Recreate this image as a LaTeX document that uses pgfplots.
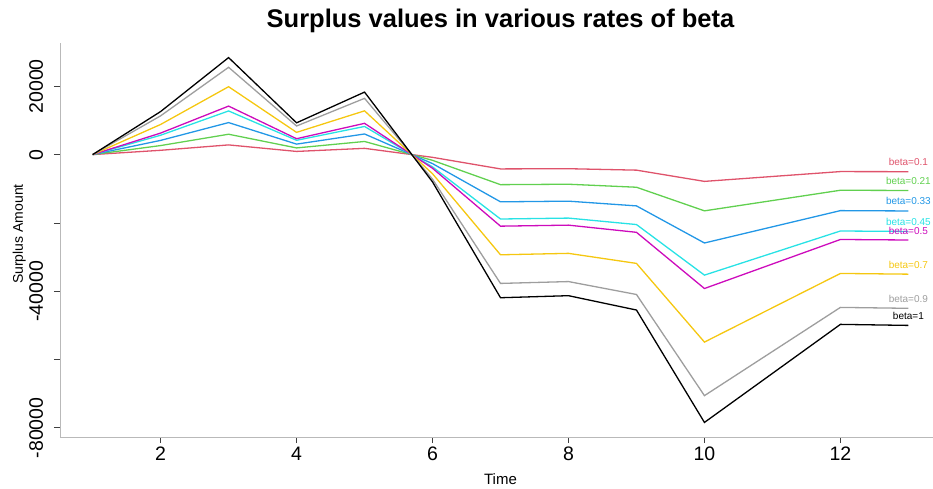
\documentclass[border=0pt]{standalone}
\usepackage{fontspec}
\setmainfont{Liberation Sans}
\usepackage{pgfplots}
\usepackage{pgfplotstable}
\pgfplotsset{compat=1.18}

\definecolor{c01}{HTML}{DF536B}
\definecolor{c021}{HTML}{61D04F}
\definecolor{c033}{HTML}{2297E6}
\definecolor{c045}{HTML}{28E2E5}
\definecolor{c05}{HTML}{CD0BBC}
\definecolor{c07}{HTML}{F5C710}
\definecolor{c09}{HTML}{9E9E9E}
\definecolor{c1}{HTML}{000000}

\newcommand\tickfont{\fontsize{19.5}{21}\selectfont}
\newcommand\labfont{\fontsize{10}{11}\selectfont}

\pgfplotstableread{
x b01 b021 b033 b045 b05 b07 b09 b1
1 0 0 0 0 0 0 0 0
2 1260 2646 4158 5670 6300 8820 11340 12600
3 2840 5964 9372 12780 14200 19880 25560 28400
4 930 1953 3069 4185 4650 6510 8370 9300
5 1830 3843 6039 8235 9150 12810 16470 18300
6 -800 -1680 -2640 -3600 -4000 -5600 -7200 -8000
7 -4190 -8799 -13827 -18855 -20950 -29330 -37710 -41900
8 -4130 -8673 -13629 -18585 -20650 -28910 -37170 -41300
9 -4550 -9555 -15015 -20475 -22750 -31850 -40950 -45500
10 -7840 -16464 -25872 -35280 -39200 -54880 -70560 -78400
12 -4970 -10437 -16401 -22365 -24850 -34790 -44730 -49700
13 -5000 -10500 -16500 -22500 -25000 -35000 -45000 -50000
}\surplus

\begin{document}
\begin{tikzpicture}
\useasboundingbox (-60pt,-51pt) rectangle (873pt,437pt);
\begin{axis}[
  at={(0pt,0pt)}, anchor=south west,
  scale only axis, width=881pt, height=394pt,
  xmin=0.52, xmax=13.48, ymin=-82670, ymax=32670,
  axis x line=bottom, axis y line=left,
  axis line style={-, draw=gray!55, line width=0.9pt},
  xtick={2,4,6,8,10,12}, xticklabels={2,4,6,8,10,12},
  ytick={-80000,-60000,-40000,-20000,0,20000},
  yticklabels={-80000,,-40000,,0,20000},
  scaled ticks=false,
  tick align=outside, major tick length=6pt,
  tick style={black!75, line width=0.8pt},
  xticklabel style={font=\tickfont, anchor=base, yshift=-17pt},
  yticklabel style={font=\tickfont, rotate=90, anchor=base, yshift=11pt},
  clip=false,
  every axis plot/.append style={line width=1.3pt, mark=none, line join=miter},
]
\addplot[c01]  table[x=x,y=b01]  {\surplus};
\addplot[c021] table[x=x,y=b021] {\surplus};
\addplot[c033] table[x=x,y=b033] {\surplus};
\addplot[c045] table[x=x,y=b045] {\surplus};
\addplot[c05]  table[x=x,y=b05]  {\surplus};
\addplot[c07]  table[x=x,y=b07]  {\surplus};
\addplot[c09]  table[x=x,y=b09]  {\surplus};
\addplot[c1]   table[x=x,y=b1]   {\surplus};

\node[anchor=base, text=c01,  font=\labfont, yshift=6pt] at (axis cs:13,-5000)  {beta=0.1};
\node[anchor=base, text=c021, font=\labfont, yshift=6pt] at (axis cs:13,-10500) {beta=0.21};
\node[anchor=base, text=c033, font=\labfont, yshift=6pt] at (axis cs:13,-16500) {beta=0.33};
\node[anchor=base, text=c045, font=\labfont, yshift=6pt] at (axis cs:13,-22500) {beta=0.45};
\node[anchor=base, text=c05,  font=\labfont, yshift=6pt] at (axis cs:13,-25000) {beta=0.5};
\node[anchor=base, text=c07,  font=\labfont, yshift=6pt] at (axis cs:13,-35000) {beta=0.7};
\node[anchor=base, text=c09,  font=\labfont, yshift=6pt] at (axis cs:13,-45000) {beta=0.9};
\node[anchor=base, text=c1,   font=\labfont, yshift=6pt] at (axis cs:13,-50000) {beta=1};

\node[anchor=base, font=\fontsize{25.5}{28}\selectfont\bfseries, yshift=15pt] at (rel axis cs:0.5,1) {Surplus values in various rates of beta};
\node[anchor=base, font=\fontsize{15}{17}\selectfont, yshift=-47pt] at (rel axis cs:0.5,0) {Time};
\node[anchor=base, rotate=90, font=\fontsize{14}{16}\selectfont] at (rel axis cs:-0.042,0.515) {Surplus Amount};
\end{axis}
\end{tikzpicture}
\end{document}
